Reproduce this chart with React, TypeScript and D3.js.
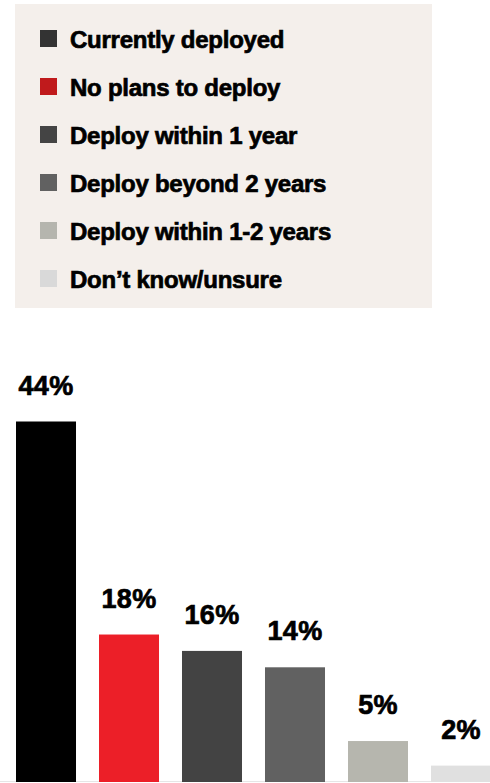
import React from "react";
import * as d3 from "d3";

const categories = [
  "Currently deployed",
  "No plans to deploy",
  "Deploy within 1 year",
  "Deploy beyond 2 years",
  "Deploy within 1-2 years",
  "Don\u2019t know/unsure",
];
const values = [44, 18, 16, 14, 5, 2];
const barColors = ["#000000", "#ec1f28", "#434343", "#616161", "#b6b6ae", "#e0e0e0"];
const legendColors = ["#333333", "#c01a1c", "#444444", "#616161", "#b5b5ae", "#d9d9d9"];

const W = 490;
const H = 783;
const FONT = "'Liberation Sans', Arial, Helvetica, sans-serif";

export default function App() {
  const x = d3
    .scaleBand<string>()
    .domain(categories)
    .range([16, 491])
    .paddingInner(0.277)
    .paddingOuter(0);
  const y = d3.scaleLinear().domain([0, 44]).range([782, 421.5]);
  const legendY = d3
    .scalePoint<string>()
    .domain(categories)
    .range([38.5, 38.5 + 5 * 48]);

  return (
    <svg
      width={W}
      height={H}
      style={{ position: "absolute", left: 0, top: 0, display: "block" }}
      fontFamily={FONT}
    >
      <rect x={15} y={4} width={417} height={304} fill="#f4efeb" />
      {categories.map((c, i) => (
        <g key={c}>
          <rect
            x={40}
            y={(legendY(c) as number) - 8.5}
            width={17}
            height={17}
            fill={legendColors[i]}
          />
          <text
            x={70}
            y={(legendY(c) as number) + 9.2}
            fontSize={24}
            fontWeight={700}
            letterSpacing={-0.25}
            fill="#000"
            stroke="#000"
            strokeWidth={0.7}
          >
            {c}
          </text>
        </g>
      ))}
      <line x1={0} x2={W} y1={781.5} y2={781.5} stroke="#e6e6e6" strokeWidth={1} />
      {categories.map((c, i) => (
        <g key={"b" + c}>
          <rect
            x={x(c)}
            y={y(values[i])}
            width={x.bandwidth()}
            height={y(0) - y(values[i])}
            fill={barColors[i]}
          />
          <text
            x={(x(c) as number) + x.bandwidth() / 2}
            y={y(values[i]) - 27}
            textAnchor="middle"
            fontSize={27}
            fontWeight={700}
            letterSpacing={0.3}
            fill="#000"
            stroke="#000"
            strokeWidth={0.7}
          >
            {values[i]}%
          </text>
        </g>
      ))}
    </svg>
  );
}
